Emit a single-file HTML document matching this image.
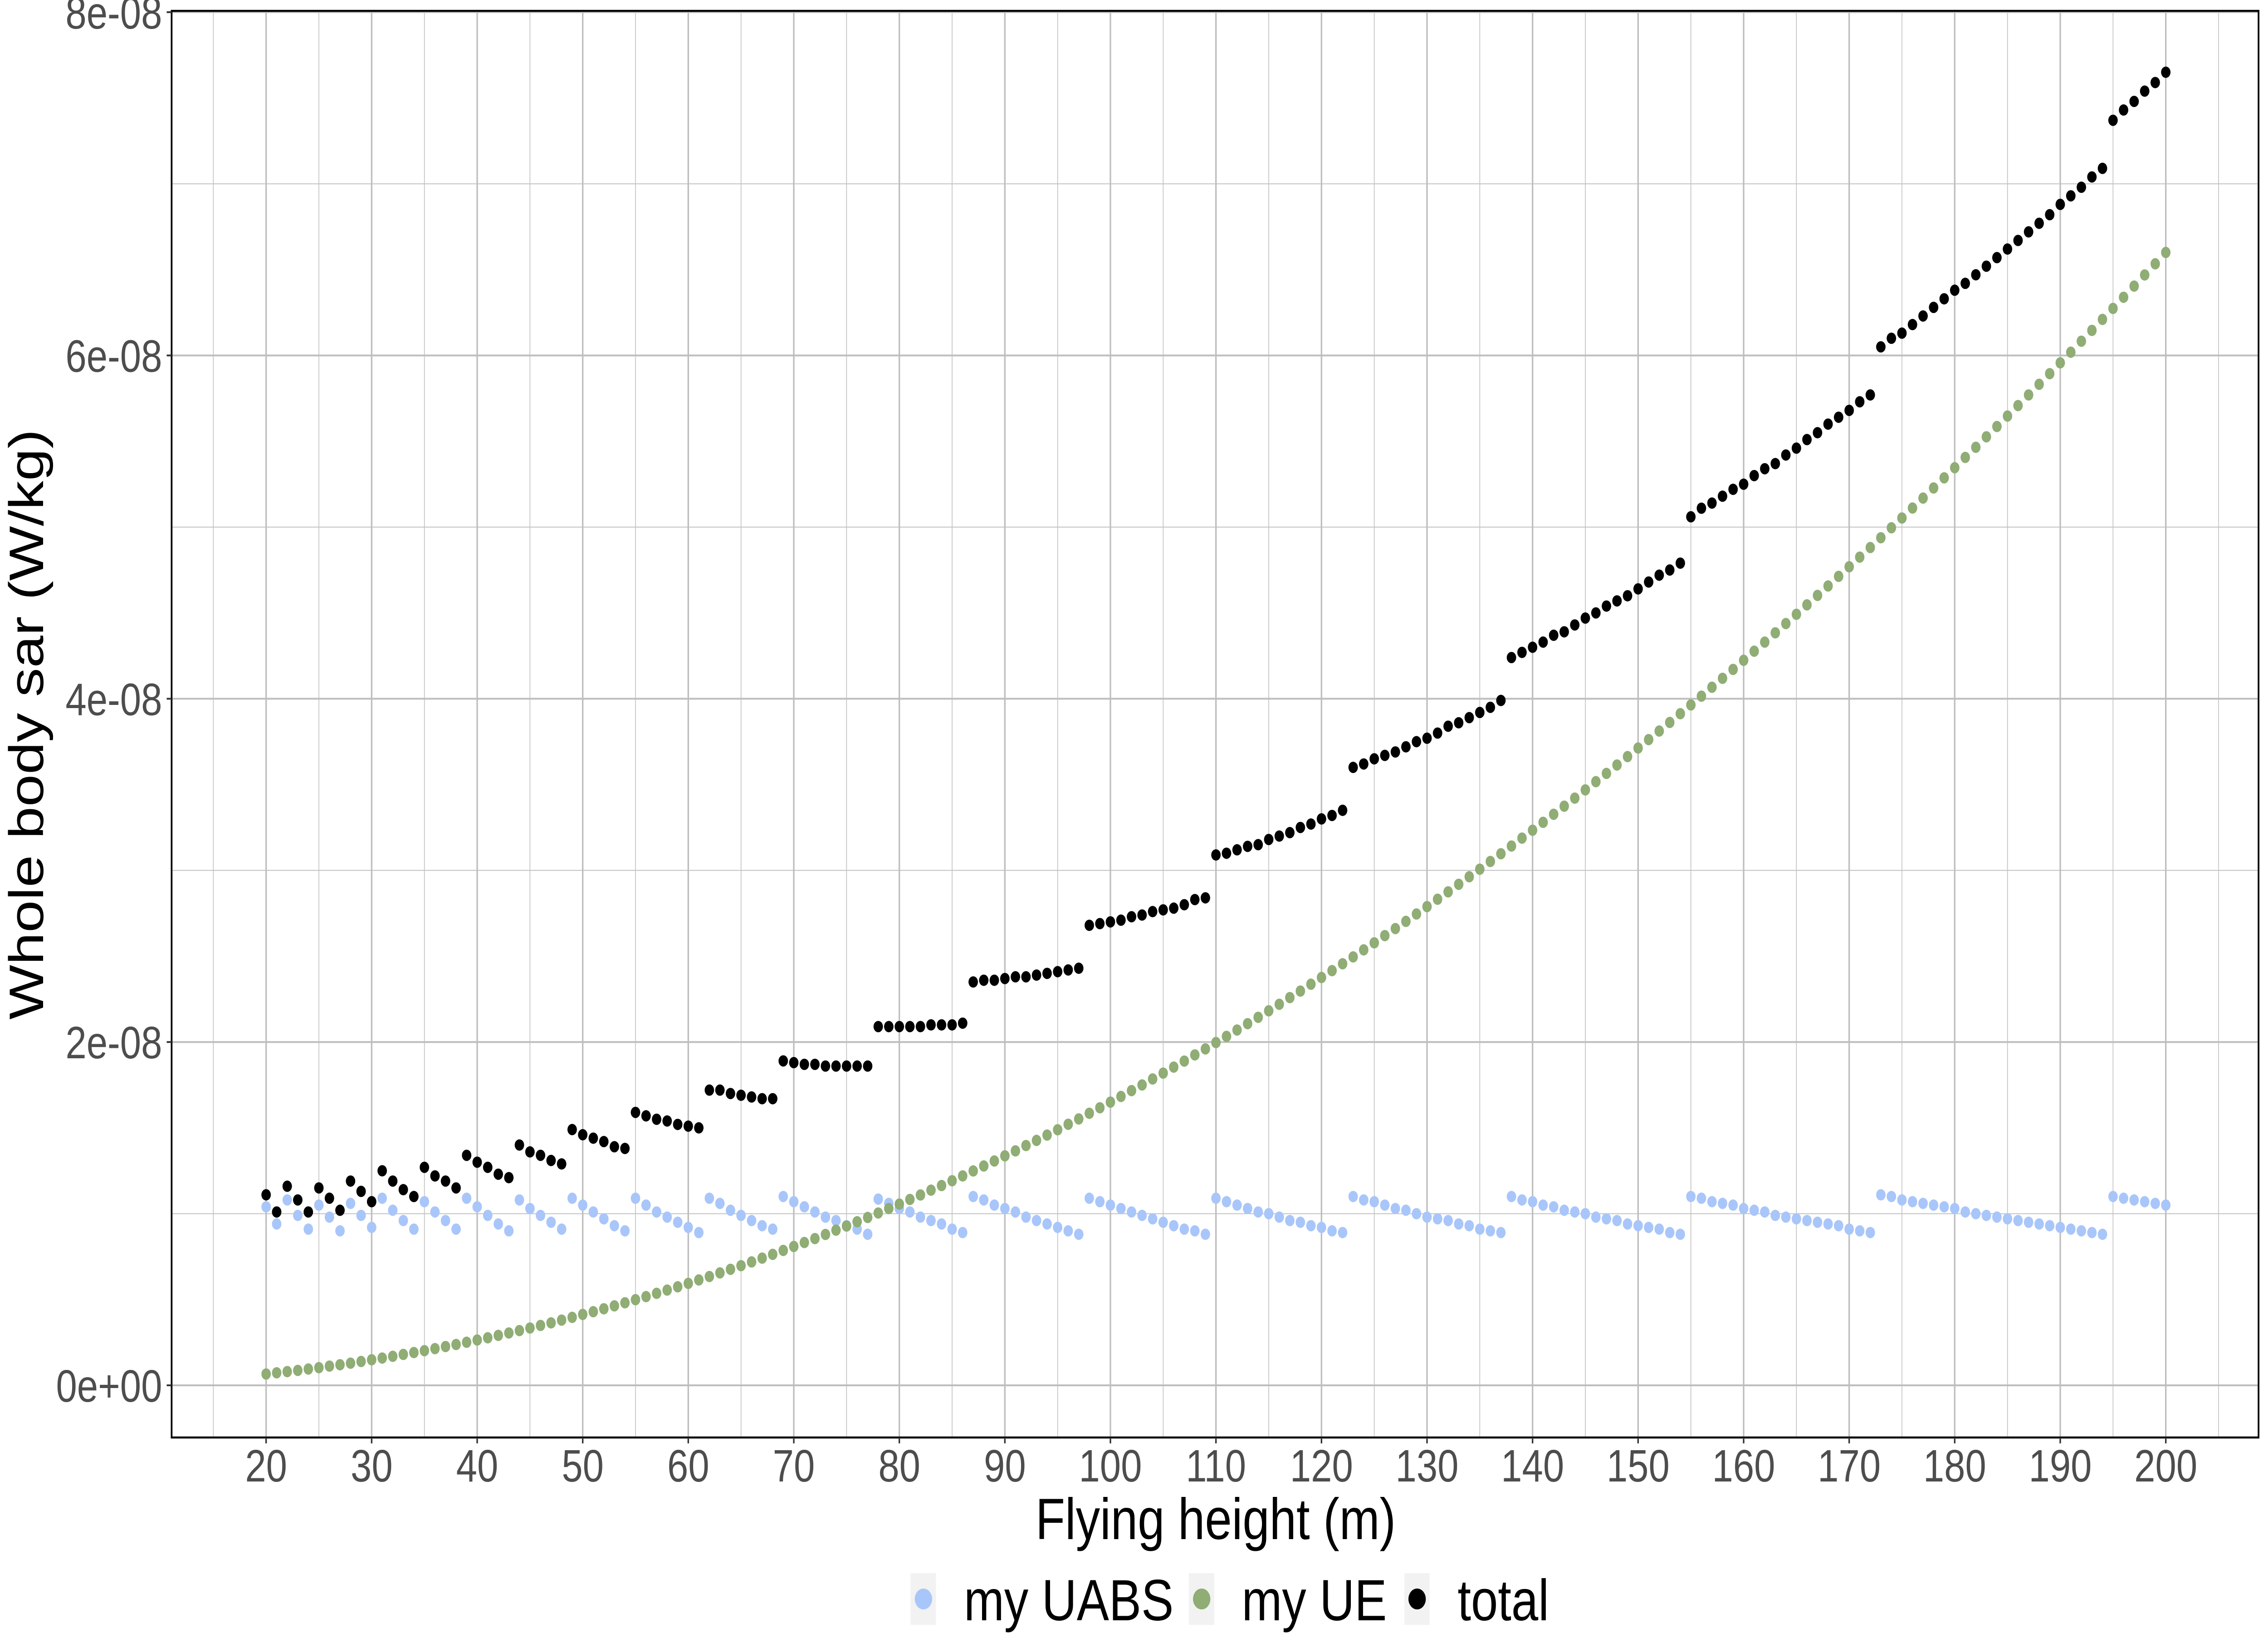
<!DOCTYPE html>
<html><head><meta charset="utf-8"><style>
html,body{margin:0;padding:0;background:#fff;width:100vw;height:100vh;overflow:hidden;}
svg{display:block;width:100vw;height:100vh;font-family:"Liberation Sans",Arial,sans-serif;}
</style></head><body>
<svg id="chart" xmlns="http://www.w3.org/2000/svg" viewBox="0 0 6000 3600" preserveAspectRatio="none">
<rect x="0" y="0" width="6000" height="3600" fill="#fff"/>
<g id="grid"></g>
<g id="uabsG"></g>
<g id="ueG"></g>
<g id="totalG"></g>
<rect x="454" y="24" width="5521" height="3145" fill="none" stroke="#000" stroke-width="4.5"/>
<g id="axes"></g>
<text x="3216" y="3393" font-size="128" text-anchor="middle" fill="#000">Flying height (m)</text>
<text x="114" y="1597" font-size="128" text-anchor="middle" fill="#000" transform="rotate(-90 114 1597)">Whole body sar (W/kg)</text>
<g>
<g>
<rect x="2409" y="3468" width="67" height="114" fill="#f2f2f2"/>
<circle cx="2443" cy="3525" r="23" fill="#a9c6fa"/>
<text x="2550" y="3572" font-size="128" fill="#000">my UABS</text>
</g>
<g>
<rect x="3145" y="3468" width="67" height="114" fill="#f2f2f2"/>
<circle cx="3179" cy="3525" r="23" fill="#8fad74"/>
<text x="3285" y="3572" font-size="128" fill="#000">my UE</text>
</g>
<g>
<rect x="3715" y="3468" width="67" height="114" fill="#f2f2f2"/>
<circle cx="3749" cy="3525" r="23" fill="#000"/>
<text x="3856" y="3572" font-size="128" fill="#000">total</text>
</g>
</g>
</svg>
<script>
const heights = [20,21,22,23,24,25,26,27,28,29,30,31,32,33,34,35,36,37,38,39,40,41,42,43,44,45,46,47,48,49,50,51,52,53,54,55,56,57,58,59,60,61,62,63,64,65,66,67,68,69,70,71,72,73,74,75,76,77,78,79,80,81,82,83,84,85,86,87,88,89,90,91,92,93,94,95,96,97,98,99,100,101,102,103,104,105,106,107,108,109,110,111,112,113,114,115,116,117,118,119,120,121,122,123,124,125,126,127,128,129,130,131,132,133,134,135,136,137,138,139,140,141,142,143,144,145,146,147,148,149,150,151,152,153,154,155,156,157,158,159,160,161,162,163,164,165,166,167,168,169,170,171,172,173,174,175,176,177,178,179,180,181,182,183,184,185,186,187,188,189,190,191,192,193,194,195,196,197,198,199,200];
// values in units of 1e-8 W/kg
const uabsVals = [1.04,0.94,1.08,0.99,0.91,1.05,0.98,0.90,1.06,0.99,
0.92,1.09,1.02,0.96,0.91,1.07,1.01,0.96,0.91,1.09,
1.04,0.99,0.94,0.90,1.08,1.03,0.99,0.95,0.91,1.09,
1.05,1.01,0.97,0.93,0.90,1.09,1.05,1.01,0.98,0.95,
0.92,0.89,1.09,1.06,1.02,0.99,0.96,0.93,0.91,1.10,
1.07,1.04,1.01,0.98,0.96,0.93,0.91,0.88,1.085,1.06,
1.03,1.01,0.98,0.96,0.94,0.91,0.89,1.10,1.08,1.05,
1.03,1.01,0.98,0.96,0.94,0.92,0.90,0.88,1.09,1.07,
1.05,1.03,1.01,0.99,0.97,0.95,0.93,0.91,0.90,0.88,
1.09,1.07,1.05,1.03,1.01,1.00,0.98,0.96,0.95,0.93,
0.92,0.90,0.89,1.10,1.08,1.07,1.05,1.03,1.02,1.00,
0.98,0.97,0.96,0.94,0.93,0.91,0.90,0.89,1.10,1.08,
1.07,1.05,1.04,1.02,1.01,1.00,0.98,0.97,0.96,0.94,
0.93,0.92,0.91,0.89,0.88,1.10,1.09,1.07,1.06,1.05,
1.03,1.02,1.01,0.99,0.98,0.97,0.96,0.95,0.94,0.93,
0.91,0.90,0.89,1.11,1.10,1.08,1.07,1.06,1.05,1.04,
1.03,1.01,1.00,0.99,0.98,0.97,0.96,0.95,0.94,0.93,
0.92,0.91,0.90,0.89,0.88,1.10,1.09,1.08,1.07,1.06,
1.05];
const ueVals = [0.066,0.073,0.080,0.087,0.095,0.103,0.112,0.120,0.129,0.139,
0.149,0.159,0.169,0.180,0.191,0.202,0.214,0.226,0.238,0.251,
0.264,0.277,0.291,0.305,0.319,0.334,0.349,0.364,0.380,0.396,
0.413,0.429,0.446,0.463,0.481,0.499,0.517,0.536,0.555,0.574,
0.594,0.614,0.634,0.655,0.676,0.697,0.719,0.741,0.763,0.786,
0.809,0.832,0.855,0.879,0.904,0.928,0.953,0.978,1.004,1.030,
1.056,1.083,1.109,1.137,1.164,1.192,1.220,1.249,1.278,1.307,
1.337,1.366,1.397,1.427,1.458,1.489,1.521,1.552,1.585,1.617,
1.650,1.683,1.717,1.750,1.785,1.819,1.854,1.889,1.925,1.960,
1.997,2.033,2.070,2.107,2.144,2.182,2.220,2.259,2.297,2.337,
2.376,2.416,2.456,2.496,2.537,2.578,2.620,2.661,2.703,2.746,
2.789,2.832,2.875,2.919,2.963,3.007,3.052,3.097,3.142,3.188,
3.234,3.280,3.327,3.374,3.421,3.469,3.517,3.565,3.614,3.663,
3.713,3.762,3.812,3.862,3.913,3.964,4.015,4.067,4.119,4.171,
4.224,4.277,4.330,4.384,4.438,4.492,4.547,4.602,4.657,4.713,
4.769,4.825,4.881,4.938,4.996,5.053,5.111,5.169,5.228,5.287,
5.346,5.406,5.465,5.526,5.586,5.647,5.708,5.770,5.832,5.894,
5.957,6.019,6.083,6.146,6.210,6.274,6.339,6.404,6.469,6.534,
6.600];
const totalVals = [1.11,1.01,1.16,1.08,1.01,1.15,1.09,1.02,1.19,1.13,
1.07,1.25,1.19,1.14,1.10,1.27,1.22,1.19,1.15,1.34,
1.30,1.27,1.23,1.21,1.40,1.36,1.34,1.31,1.29,1.49,
1.46,1.44,1.42,1.39,1.38,1.59,1.57,1.55,1.54,1.52,
1.51,1.50,1.72,1.72,1.70,1.69,1.68,1.67,1.67,1.89,
1.88,1.87,1.87,1.86,1.86,1.86,1.86,1.86,2.09,2.09,
2.09,2.09,2.09,2.10,2.10,2.10,2.11,2.35,2.36,2.36,
2.37,2.38,2.38,2.39,2.40,2.41,2.42,2.43,2.68,2.69,
2.70,2.71,2.73,2.74,2.76,2.77,2.78,2.80,2.83,2.84,
3.09,3.10,3.12,3.14,3.15,3.18,3.20,3.22,3.25,3.27,
3.30,3.32,3.35,3.60,3.62,3.65,3.67,3.69,3.72,3.75,
3.77,3.80,3.84,3.86,3.89,3.92,3.95,3.99,4.24,4.27,
4.30,4.33,4.37,4.39,4.43,4.47,4.50,4.54,4.57,4.60,
4.64,4.68,4.72,4.75,4.79,5.06,5.11,5.14,5.18,5.22,
5.25,5.30,5.34,5.37,5.42,5.46,5.51,5.55,5.60,5.64,
5.68,5.73,5.77,6.05,6.10,6.13,6.18,6.23,6.28,6.33,
6.38,6.42,6.47,6.52,6.57,6.62,6.67,6.72,6.77,6.82,
6.88,6.93,6.98,7.04,7.09,7.37,7.43,7.48,7.54,7.59,
7.65];
const xTicks = [20,30,40,50,60,70,80,90,100,110,120,130,140,150,160,170,180,190,200];
const xMinor = [15,25,35,45,55,65,75,85,95,105,115,125,135,145,155,165,175,185,195,205];
const yTicks = [0,2,4,6,8];
const yTickLabels = ["0e+00","2e-08","4e-08","6e-08","8e-08"];
const yMinor = [1,3,5,7];

const NS = "http://www.w3.org/2000/svg";
const PL = 454, PR = 5975, PT = 24, PB = 3169;
function xs(h){ return 704 + (h - 20) * 27.92; }
function ys(v){ return 3054 - v * 378.4; }
function mk(tag, attrs, parent){
  const e = document.createElementNS(NS, tag);
  for (const k in attrs) e.setAttribute(k, attrs[k]);
  parent.appendChild(e);
  return e;
}
const grid = document.getElementById('grid');
yMinor.forEach(v => {
  const l = mk('line', {x1:PL, x2:PR, y1:ys(v), y2:ys(v), stroke:'#c2c2c2', 'stroke-width':2}, grid);
  
  
});
xMinor.forEach(h => {
  const l = mk('line', {x1:xs(h), x2:xs(h), y1:PT, y2:PB, stroke:'#c2c2c2', 'stroke-width':2}, grid);
  
  
});
yTicks.forEach(v => {
  const l = mk('line', {x1:PL, x2:PR, y1:ys(v), y2:ys(v), stroke:'#bebebe', 'stroke-width':4}, grid);
  
  
});
xTicks.forEach(h => {
  const l = mk('line', {x1:xs(h), x2:xs(h), y1:PT, y2:PB, stroke:'#bebebe', 'stroke-width':4}, grid);
  
  
});
function drawSeries(gid, vals, color, name){
  const g = document.getElementById(gid);
  heights.forEach((h, i) => {
    const c = mk('circle', {cx:xs(h), cy:ys(vals[i]), r:12.5, fill:color}, g);
    
    
  });
}
drawSeries('uabsG', uabsVals, '#a9c6fa', 'uabs-point');
drawSeries('ueG', ueVals, '#8fad74', 'ue-point');
drawSeries('totalG', totalVals, '#000000', 'total-point');
const axes = document.getElementById('axes');
yTicks.forEach((v, i) => {
  const t = mk('line', {x1:441, x2:454, y1:ys(v), y2:ys(v), stroke:'#333', 'stroke-width':4}, axes);
  
  
  const tx = mk('text', {x:429, y:ys(v) + 36, 'font-size':100, 'text-anchor':'end', fill:'#4d4d4d'}, axes);
  tx.textContent = yTickLabels[i];
  
  
});
xTicks.forEach(h => {
  const t = mk('line', {x1:xs(h), x2:xs(h), y1:PB, y2:PB + 13, stroke:'#333', 'stroke-width':4}, axes);
  
  
  const tx = mk('text', {x:xs(h), y:3266, 'font-size':100, 'text-anchor':'middle', fill:'#4d4d4d'}, axes);
  tx.textContent = String(h);
  
  
});
</script>
</body></html>
